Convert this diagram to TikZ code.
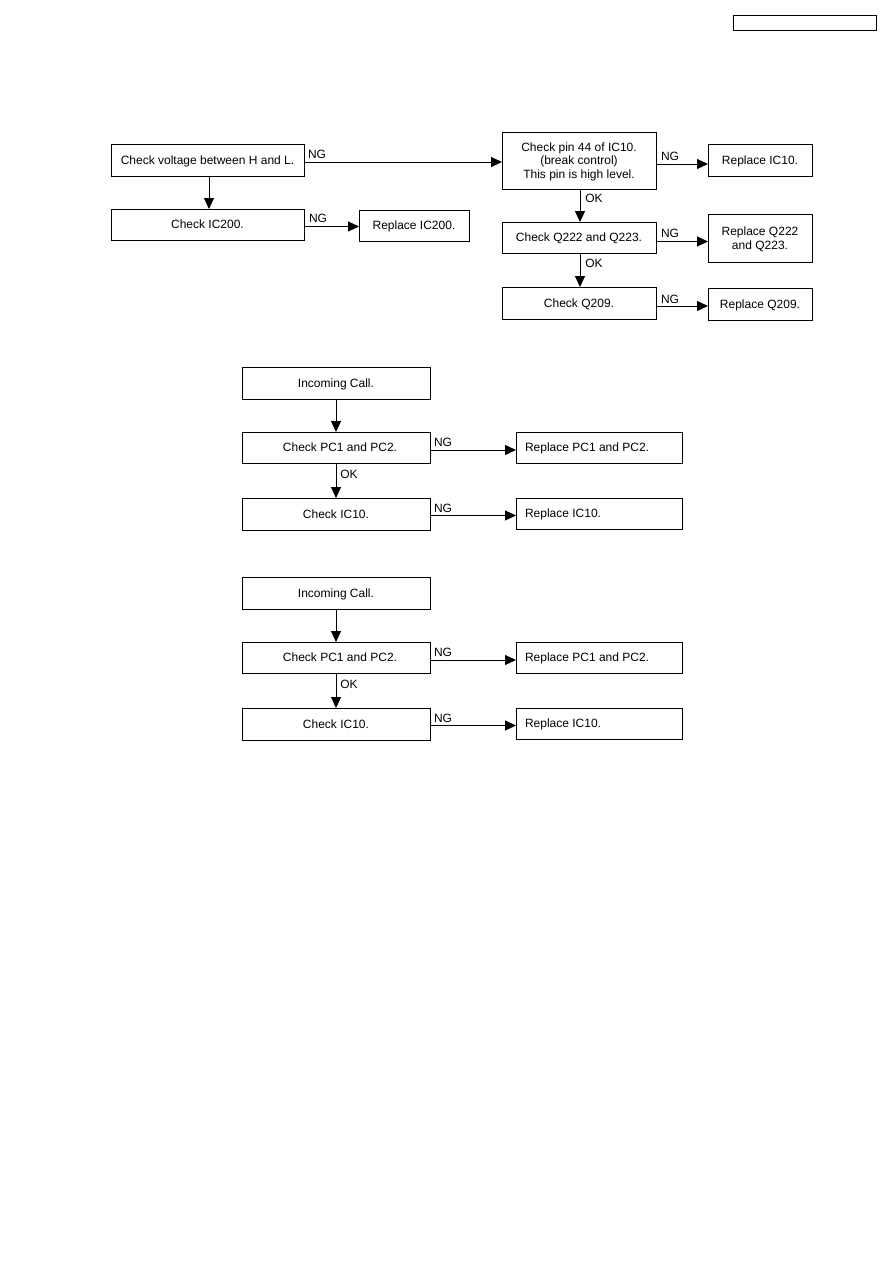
\documentclass[tikz,border=0pt]{standalone}
\usepackage{fontspec}
\setmainfont{Liberation Sans}
\usetikzlibrary{arrows.meta}
\begin{document}
\begin{tikzpicture}[x=1pt,y=-1pt,
  every node/.style={font=\fontsize{12}{13.5}\selectfont},
  box/.style={draw, line width=1pt, fill=white, inner sep=0pt, outer sep=0pt, align=center, text depth=0pt},
  arr/.style={line width=1pt, -{Triangle[length=11pt,width=10pt]}},
  lbl/.style={inner sep=0pt}]
\useasboundingbox (0,0) rectangle (893,1263);
% header box
\node[box, minimum width=143pt, minimum height=15pt] (hdr) at (804.5,23.5) {};
% top chart
\node[box, minimum width=193pt, minimum height=32pt] (A) at (207.5,160) {Check voltage between H and L.};
\node[box, minimum width=193pt, minimum height=31pt] (B) at (207.5,224.5) {Check IC200.};
\node[box, minimum width=110pt, minimum height=31pt] (C) at (414,225.5) {Replace IC200.};
\node[box, minimum width=154pt, minimum height=57pt] (D) at (579,160.5) {Check pin 44 of IC10.\\(break control)\\This pin is high level.};
\node[box, minimum width=104pt, minimum height=32pt] (E) at (760,160) {Replace IC10.};
\node[box, minimum width=154pt, minimum height=31pt] (F) at (579,237.5) {Check Q222 and Q223.};
\node[box, minimum width=104pt, minimum height=48pt] (G) at (760,238) {Replace Q222\\and Q223.};
\node[box, minimum width=154pt, minimum height=32pt] (H) at (579,303) {Check Q209.};
\node[box, minimum width=104pt, minimum height=32pt] (I) at (760,304) {Replace Q209.};
\draw[arr] ([yshift=-2pt]A.east) -- ([yshift=-2pt]A.east -| D.west);
\draw[arr] ([xshift=1.5pt]A.south) -- ([xshift=1.5pt]B.north);
\draw[arr] ([yshift=-2pt]B.east) -- ([yshift=-2pt]B.east -| C.west);
\draw[arr] ([yshift=-3.5pt]D.east) -- ([yshift=-3.5pt]D.east -| E.west);
\draw[arr] ([xshift=1pt]D.south) -- ([xshift=1pt]F.north);
\draw[arr] ([yshift=-4pt]F.east) -- ([yshift=-4pt]F.east -| G.west);
\draw[arr] ([xshift=1pt]F.south) -- ([xshift=1pt]H.north);
\draw[arr] ([yshift=-3pt]H.east) -- ([yshift=-3pt]H.east -| I.west);
\node[lbl] (ng1) at (317,154) {NG};
\node[lbl] (ng2) at (318,218) {NG};
\node[lbl] (ng3) at (670,156.5) {NG};
\node[lbl] (ng4) at (670,233) {NG};
\node[lbl] (ng5) at (670,299) {NG};
\node[lbl] (ok1) at (594,198) {OK};
\node[lbl] (ok2) at (594,263) {OK};
% middle chart
\node[box, minimum width=188pt, minimum height=32pt] (J) at (336,383) {Incoming Call.};
\node[box, minimum width=188pt, minimum height=31pt] (K) at (336,447.5) {\hspace*{8pt}Check PC1 and PC2.};
\node[box, minimum width=166pt, minimum height=31pt] (L) at (599,447.5) {\makebox[148pt][l]{Replace PC1 and PC2.}};
\node[box, minimum width=188pt, minimum height=32pt] (M) at (336,514) {Check IC10.};
\node[box, minimum width=166pt, minimum height=31pt] (N) at (599,513.5) {\makebox[148pt][l]{Replace IC10.}};
\draw[arr] (J.south) -- (K.north);
\draw[arr] ([yshift=-2.5pt]K.east) -- ([yshift=-2.5pt]K.east -| L.west);
\draw[arr] (K.south) -- (M.north);
\draw[arr] ([yshift=-1.5pt]M.east) -- ([yshift=-1.5pt]M.east -| N.west);
\node[lbl] (ng6) at (443,442) {NG};
\node[lbl] (ng7) at (443,508) {NG};
\node[lbl] (ok3) at (349,474) {OK};
% bottom chart
\node[box, minimum width=188pt, minimum height=32pt] (J2) at (336,593) {Incoming Call.};
\node[box, minimum width=188pt, minimum height=31pt] (K2) at (336,657.5) {\hspace*{8pt}Check PC1 and PC2.};
\node[box, minimum width=166pt, minimum height=31pt] (L2) at (599,657.5) {\makebox[148pt][l]{Replace PC1 and PC2.}};
\node[box, minimum width=188pt, minimum height=32pt] (M2) at (336,724) {Check IC10.};
\node[box, minimum width=166pt, minimum height=31pt] (N2) at (599,723.5) {\makebox[148pt][l]{Replace IC10.}};
\draw[arr] (J2.south) -- (K2.north);
\draw[arr] ([yshift=-2.5pt]K2.east) -- ([yshift=-2.5pt]K2.east -| L2.west);
\draw[arr] (K2.south) -- (M2.north);
\draw[arr] ([yshift=-1.5pt]M2.east) -- ([yshift=-1.5pt]M2.east -| N2.west);
\node[lbl] (ng8) at (443,652) {NG};
\node[lbl] (ng9) at (443,718) {NG};
\node[lbl] (ok4) at (349,684) {OK};
\end{tikzpicture}
\end{document}
